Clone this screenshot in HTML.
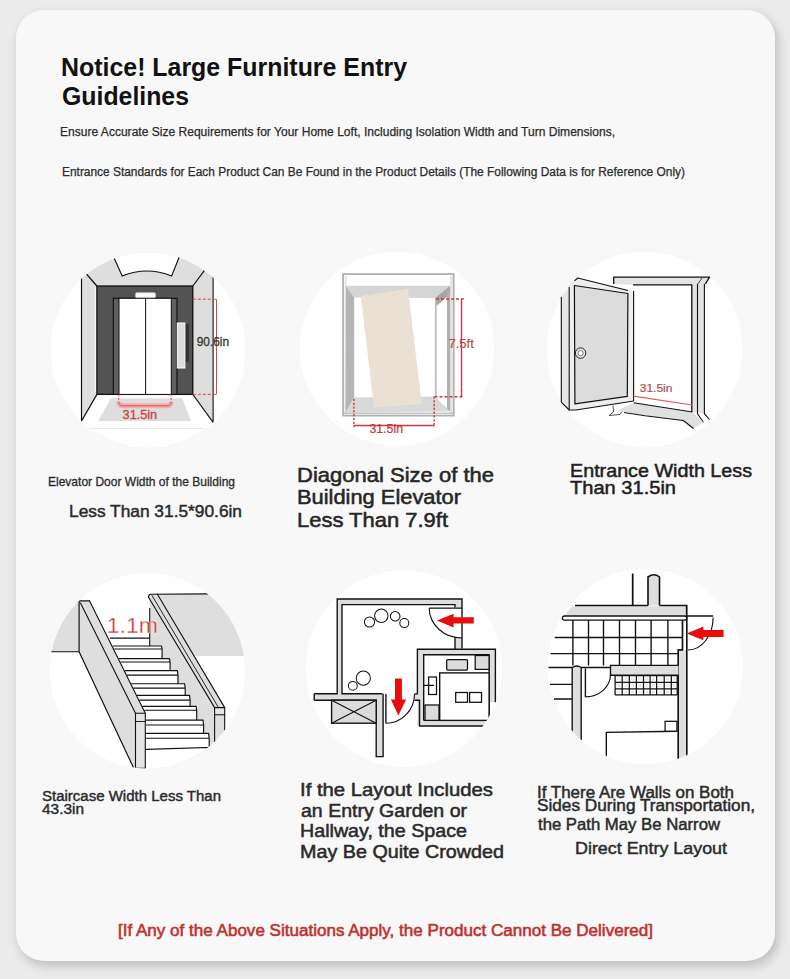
<!DOCTYPE html>
<html><head><meta charset="utf-8">
<style>
html,body{margin:0;padding:0;background:#ebebeb;width:790px;height:979px;overflow:hidden;}
#card{position:absolute;left:16px;top:10px;width:759px;height:951px;border-radius:28px;background:#f8f8f8;box-shadow:3px 5px 11px rgba(0,0,0,0.2);}
svg{position:absolute;left:0;top:0;}
text{font-family:"Liberation Sans",sans-serif;}
</style></head>
<body>
<div id="card"></div>
<svg width="790" height="979" viewBox="0 0 790 979">
<defs>
<clipPath id="c1"><circle cx="148" cy="350" r="97.5"/></clipPath>
<clipPath id="c2"><circle cx="397" cy="348.6" r="97.2"/></clipPath>
<clipPath id="c3"><circle cx="644.6" cy="349.5" r="98"/></clipPath>
<clipPath id="c4"><circle cx="147.3" cy="670.8" r="97.7"/></clipPath>
<clipPath id="c5"><circle cx="403.8" cy="668.3" r="98.1"/></clipPath>
<clipPath id="c6"><circle cx="645.5" cy="666.5" r="97.7"/></clipPath>
</defs>
<!-- circles -->
<g fill="#fff">
<circle cx="148" cy="350" r="97.5"/>
<circle cx="397" cy="348.6" r="97.2"/>
<circle cx="644.6" cy="349.5" r="98"/>
<circle cx="147.3" cy="670.8" r="97.7"/>
<circle cx="403.8" cy="668.3" r="98.1"/>
<circle cx="645.5" cy="666.5" r="97.7"/>
</g>
<g clip-path="url(#c1)">
<polygon points="40,230 260,230 213.1,276 213.1,422.3 192.8,394.4 96.9,394.4 81.5,421 81.5,276" fill="#dedede"/><rect x="94.5" y="288" width="2.4" height="104" fill="#f4f4f4"/>
<path d="M114,240 L114,257.7 L122.2,276 Q147,266 171.6,276 L179.2,257 L179.2,240 Z" fill="#fff"/>
<path d="M100,250 L114,257.7 L122.2,276 Q147,266 171.6,276 L179.2,257 L195,250" fill="none" stroke="#111" stroke-width="1.1"/>
<polygon points="213.1,276 240,276 240,440 213.1,440" fill="#fff"/>
<polygon points="96.9,394.4 192.8,394.4 212.7,422.3 81.7,421" fill="#fff"/>
<polygon points="110.8,398.2 182.3,398.2 191,421 98.2,421" fill="#dedede"/>
<line x1="90.6" y1="428.4" x2="204" y2="428.4" stroke="#e6e6e6" stroke-width="1"/>
<rect x="96.9" y="286" width="95.9" height="108.4" fill="#535353" stroke="#111" stroke-width="1.3"/>
<rect x="113.3" y="298.3" width="63.7" height="96.1" fill="#5f5f5f" stroke="#111" stroke-width="1.2"/>
<rect x="119" y="298.3" width="52.3" height="96.1" fill="#fff" stroke="#111" stroke-width="1"/>
<line x1="145.6" y1="298.3" x2="145.6" y2="394.4" stroke="#111" stroke-width="1"/>
<rect x="135.4" y="292.6" width="20.3" height="5.1" rx="1.5" fill="#fafafa" stroke="#aaa" stroke-width="0.7"/>
<rect x="185" y="324" width="4" height="38" fill="#333"/>
<rect x="177.3" y="323" width="7.6" height="45" fill="#dcdcdc" stroke="#fff" stroke-width="1"/>
<path d="M81.5,277 V421 L96.9,394.4" fill="none" stroke="#111" stroke-width="1.2"/>
<path d="M86,273.5 L96.9,286" fill="none" stroke="#111" stroke-width="1.2"/>
<path d="M192.8,286 L204.5,270.3" fill="none" stroke="#111" stroke-width="1.2"/>
<path d="M213.1,276.6 V422.3 L192.8,394.4" fill="none" stroke="#222" stroke-width="1.2"/>
<g stroke="#d64848" stroke-width="1" fill="none">
<path d="M192.8,299.2 H218" stroke-dasharray="3,2"/>
<path d="M192.8,394.4 H218" stroke-dasharray="3,2"/>
<path d="M216.5,299.2 V394.4"/>
<path d="M118.7,394.4 V403" stroke-dasharray="2,1.5"/>
<path d="M171.1,394.4 V403" stroke-dasharray="2,1.5"/>
<path d="M118.7,402 Q118.7,405.8 123,405.8 H167 Q171.1,405.8 171.1,402" stroke="#f5a0a0" stroke-width="5" opacity="0.75"/>
<path d="M118.7,402 Q118.7,405.8 123,405.8 H167 Q171.1,405.8 171.1,402" stroke="#e05050" stroke-width="1"/>
</g>
<text x="196.80" y="345.8" font-size="12" fill="#333" stroke="#333" stroke-width="0.3" textLength="32.20" lengthAdjust="spacingAndGlyphs">90.6in</text>
<text x="122.60" y="418.9" font-size="12" fill="#c44848" stroke="#c44848" stroke-width="0.3" textLength="34.60" lengthAdjust="spacingAndGlyphs">31.5in</text>
</g>
<g>
<rect x="343.1" y="274.1" width="110.6" height="141.5" fill="#fff" stroke="#b0b0b0" stroke-width="1.8"/>
<rect x="344.6" y="275.6" width="2" height="138" fill="#e2e2e2"/>
<rect x="450.2" y="275.6" width="2.5" height="138" fill="#e2e2e2"/>
<polygon points="346.1,285.8 450.1,285.8 434.9,298 354.2,297.4" fill="#d5d5d5"/>
<polygon points="346.1,285.8 354.2,297.4 354.2,397.4 345.6,412.6" fill="#b5b5b5"/>
<polygon points="450.1,285.8 450.1,294 436.5,306 434.9,298" fill="#a6a6a6"/>
<rect x="434.9" y="298" width="1.8" height="98.5" fill="#bdbdbd"/>
<rect x="447" y="290" width="3.1" height="121" fill="#b0b0b0"/>
<polygon points="354.2,397.4 434.9,396.5 450.1,411.5 345.6,412.6" fill="#d8d8d8"/>
<line x1="343.5" y1="413.2" x2="453.5" y2="413.2" stroke="#a8a8a8" stroke-width="1"/>
<polygon points="360.8,295.9 407.9,288.8 421.8,404 374,407.5" fill="#ebe0d4"/>
<g stroke="#cc3a3a" stroke-width="1.4" fill="none">
<path d="M353.9,398.9 V427.3" stroke-dasharray="2.2,1.6"/>
<path d="M434.2,396.4 V427.3" stroke-dasharray="2.2,1.6"/>
<path d="M353.9,425.5 H434.2"/>
<path d="M436,299 H463.8" stroke-dasharray="3,2"/>
<path d="M434.5,396.7 H463.8" stroke-dasharray="3,2"/>
<path d="M461.5,299 V396.7"/>
</g>
<text x="369.40" y="432.7" font-size="12.5" fill="#bc3c40" stroke="#bc3c40" stroke-width="0.2" textLength="33.60" lengthAdjust="spacingAndGlyphs">31.5in</text>
<text x="448.40" y="347.8" font-size="12" fill="#b04a50" stroke="#b04a50" stroke-width="0.15" textLength="25.40" lengthAdjust="spacingAndGlyphs">7.5ft</text>
</g>
<g stroke-linejoin="round">
<polygon points="613.7,277.2 709.5,277.2 705.5,283.8 704.4,283.8 704.4,413.7 691.8,412 691.8,284.9 633,284.9 613.7,284" fill="#e3e3e3"/>
<path d="M613.7,284 V277.2 H709.5 L705.5,283.8" fill="none" stroke="#111" stroke-width="1.3"/>
<path d="M633,284.9 H691.8 V412" fill="none" stroke="#111" stroke-width="1.3"/>
<path d="M697.5,283.8 V413.7 L703.5,422.5" fill="none" stroke="#111" stroke-width="1.1"/>
<path d="M704.4,283.8 V413.7 L709.5,419.5" fill="none" stroke="#111" stroke-width="1.1"/>
<path d="M698,283.8 L702,278" fill="none" stroke="#111" stroke-width="0.8"/>
<polygon points="633.6,402.8 692.4,412 703.5,422.5 693.5,428.5 683.3,420.5 645,415.5 618.2,410.5" fill="#e0e0e0"/>
<path d="M633.6,402.8 L692.4,412" fill="none" stroke="#111" stroke-width="1.1"/>
<path d="M624,412.5 L645,415.8 L683.3,420.5 L693.5,428.5" fill="none" stroke="#111" stroke-width="1.1"/>
<path d="M613,405.5 L613.5,412 L609,415.5 L620,414.5 L622,411.5" fill="none" stroke="#222" stroke-width="0.8"/>
<polygon points="561.3,296.8 569.2,287.1 569.2,410 561.3,402.1" fill="#e6e6e6"/>
<path d="M561.3,296.8 V402.1 L569.2,410" fill="none" stroke="#111" stroke-width="1.1"/>
<polygon points="569.2,283.5 574.4,280.8 577.8,278 633.6,290.5 633.6,401 576,410 569.2,410" fill="#eeeeee"/>
<path d="M569.2,287.1 V410 H576 L633.6,401" fill="none" stroke="#111" stroke-width="1.1"/>
<path d="M574.4,280.8 L577.8,278 L627.9,290.5" fill="none" stroke="#111" stroke-width="1.1"/>
<polygon points="574.4,285.5 627.9,293.5 627.3,396.4 574.9,403.8" fill="#dcdcdc" stroke="#111" stroke-width="1.2"/>
<line x1="633.6" y1="291" x2="633.6" y2="401" stroke="#111" stroke-width="1.1"/>
<circle cx="580.6" cy="353.1" r="5.2" fill="#e8e8e8" stroke="#222" stroke-width="1"/>
<circle cx="580.6" cy="353.1" r="2.6" fill="#fff" stroke="#555" stroke-width="0.8"/>
<path d="M633.5,396.1 L692,405" stroke="#e05a5a" stroke-width="1.2" fill="none"/>
<text x="639.80" y="391.7" font-size="11.6" fill="#b84a4a" stroke="#b84a4a" stroke-width="0.2" textLength="32.60" lengthAdjust="spacingAndGlyphs">31.5in</text>
</g>
<g clip-path="url(#c4)" stroke-linejoin="round" stroke-linecap="round">
<polygon points="30,560 79.1,560 79.1,651.7 30,651.7" fill="#dedede"/>
<polygon points="157.4,594 270,594 270,655.9 193.5,655.9" fill="#dedede"/>
<path d="M30,651.7 H79.1" stroke="#111" stroke-width="1.1" fill="none"/>
<polygon points="148.4,596 157.4,594 224.7,707.6 224.7,730 214.6,790 149.7,790 149.7,600" fill="#dedede"/>
<polygon points="110.3,638.1 149.5,638.1 149.5,646.0 161.5,646.0 162.1,649.0 162.1,658.6 169.5,658.6 170.1,662.0 170.1,670.6 177.4,670.6 178.0,675.1 178.0,683.7 184.6,683.7 185.2,688.1 185.2,695.4 189.5,695.4 190.1,700.1 190.1,706.4 196.1,706.4 196.7,710.2 196.7,720.1 203.0,720.1 203.6,725.0 203.6,733.4 208.6,733.4 209.2,738.2 209.2,749.4 240.0,746.5 240.0,790.0 146.5,790.0 110.3,638.1" fill="#fff"/>
<path d="M110.3,638.1 H149.5 M113.1,646 H161.5 M114.6,649 H162.1 M161.5,646 L162.1,649 V658.6 M119.3,658.6 H169.5 M120.9,662 H170.1 M169.5,658.6 L170.1,662 V670.6 M125.2,670.6 H177.4 M127.4,675.1 H178.0 M177.4,670.6 L178.0,675.1 V683.7 M131.6,683.7 H184.6 M133.7,688.1 H185.2 M184.6,683.7 L185.2,688.1 V695.4 M137.3,695.4 H189.5 M139.6,700.1 H190.1 M189.5,695.4 L190.1,700.1 V706.4 M142.7,706.4 H196.1 M144.6,710.2 H196.7 M196.1,706.4 L196.7,710.2 V720.1 M146.5,720.1 H203 M146.5,725 H203.6 M203,720.1 L203.6,725 V733.4 M146.5,733.4 H208.6 M146.5,738.2 H209.2 M208.6,733.4 L209.2,738.2 V749.4 M146.5,749.4 L240,746.5" stroke="#111" stroke-width="1.15" fill="none"/>
<polygon points="79.1,600.9 89.6,600.9 145.3,713.2 145.3,768.2 133.4,767.5 79.1,651.7" fill="#dedede"/>
<path d="M79.1,600.9 V651.7 L133.4,767.5" stroke="#111" stroke-width="1.2" fill="none"/>
<path d="M79.1,600.9 H89.6" stroke="#111" stroke-width="1.1" fill="none"/>
<path d="M80.5,603 L135.5,713.2" stroke="#111" stroke-width="1.1" fill="none"/>
<path d="M89.6,600.9 L145.3,713.2" stroke="#111" stroke-width="1.1" fill="none"/>
<rect x="135.5" y="713.2" width="9.8" height="55" fill="#e4e4e4" stroke="#111" stroke-width="1.1"/>
<line x1="135.5" y1="721.5" x2="145.3" y2="721.5" stroke="#111" stroke-width="0.9"/>
<path d="M149.7,608.6 V645.5" stroke="#111" stroke-width="1.1" fill="none"/>
<path d="M148.4,597 Q148.4,594.5 151,594.2 L207.5,593.9" stroke="#111" stroke-width="1.1" fill="none"/>
<path d="M148.4,597 L214.6,707.6" stroke="#111" stroke-width="1.1" fill="none"/>
<path d="M152,595.5 L218.5,707.6" stroke="#111" stroke-width="0.9" fill="none"/>
<path d="M157.4,594.2 L224.7,707.6" stroke="#111" stroke-width="1.1" fill="none"/>
<rect x="214.6" y="707.6" width="10.1" height="7.1" fill="#e4e4e4" stroke="#111" stroke-width="1.1"/>
<path d="M214.6,714.7 V790 M224.7,714.7 V729.9" stroke="#111" stroke-width="1.1" fill="none"/>
<text x="106.8" y="633.4" font-size="22" fill="#c43c3c" stroke="#fff" stroke-width="0.3" textLength="51.2" lengthAdjust="spacingAndGlyphs">1.1m</text>
</g>
<g clip-path="url(#c5)" stroke="#111" stroke-linejoin="miter">
<g fill="#dedede" stroke="none">
<rect x="337.2" y="599" width="124.8" height="5.6"/>
<rect x="337.2" y="599" width="4.8" height="101"/>
<rect x="455" y="599" width="7" height="8.4"/>
<rect x="455" y="637.4" width="7" height="11.1"/>
<rect x="314.2" y="693.8" width="68.2" height="6.4"/>
<rect x="376.2" y="693.8" width="6.9" height="62.8"/>
<rect x="414.5" y="693.8" width="5" height="6.4"/>
<rect x="417.4" y="649.2" width="78" height="5.6"/>
<rect x="417.4" y="649.2" width="6.3" height="76.8"/>
<rect x="489.1" y="649.2" width="6.3" height="53.1"/>
<rect x="417.4" y="720.4" width="67.6" height="5.6"/>
</g>
<g fill="none" stroke-width="1.38">
<path d="M314.2,693.8 H337.2 V599 H462 V648.5"/>
<path d="M382.4,693.8 H342 V604.6 H455 V607.4"/>
<path d="M455,637.4 V649.2"/>
<path d="M314.2,700.2 H376.2 V756.6 H383.1 V693.8 M314.2,693.8 V700.2" />
<path d="M429.2,608.1 H462"/>
<path d="M429.2,608.1 A32.8,29.9 0 0 0 462,638" stroke-width="1.15"/>
<path d="M385.9,693.9 V723.2"/>
<path d="M385.9,723.2 A28.6,29.3 0 0 0 414.5,693.9" stroke-width="1.15"/>
<path d="M414.5,693.9 H417.4 V649.2 H495.4 V702.3"/>
<path d="M414.5,700.2 H419.5 V726 H483.6"/>
<path d="M423.7,720.4 V654.8 H489.1 V714.8"/>
<path d="M423.7,720.4 H485"/>
</g>
<rect x="331.6" y="700.2" width="44.6" height="23" fill="#dcdcdc" stroke-width="1.38"/>
<path d="M331.6,700.2 L376.2,723.2 M376.2,700.2 L331.6,723.2" stroke-width="1.15"/>
<rect x="439.7" y="672.9" width="49.4" height="47.5" fill="#fff" stroke-width="1.38"/>
<rect x="446.7" y="659.6" width="20.8" height="10.5" rx="1" fill="#dcdcdc" stroke-width="1.26"/>
<rect x="475.2" y="655.5" width="13.9" height="13.9" fill="#dcdcdc" stroke-width="1.26"/>
<rect x="425" y="705" width="14" height="15.4" fill="#dcdcdc" stroke-width="1.26"/>
<rect x="428.6" y="677" width="7.9" height="17.5" fill="#fff" stroke-width="1.26"/>
<path d="M423.7,685.4 H434" stroke-width="1.15"/>
<rect x="455.7" y="692.5" width="11.8" height="9.8" fill="#fff" stroke-width="1.26"/>
<rect x="469.6" y="692.5" width="11.9" height="9.8" fill="#fff" stroke-width="1.26"/>
<g fill="#fff" stroke-width="1.03">
<circle cx="381.3" cy="615.8" r="6.7"/>
<circle cx="369.5" cy="622" r="5.1"/>
<circle cx="395.2" cy="616.2" r="4.8"/>
<circle cx="404.3" cy="623.1" r="4.5"/>
<circle cx="363.3" cy="678.2" r="7.1"/>
<circle cx="352.8" cy="685.8" r="4.4"/>
</g>
<polygon points="436.9,620.4 453.6,613.7 453.6,617.2 473.8,617.2 473.8,623.4 453.6,623.4 453.6,627.6" fill="#e80e0e" stroke="none"/>
<polygon points="395,678.4 401.9,678.4 401.9,699.5 406.1,699.5 398.4,715.5 390.8,699.5 395,699.5" fill="#e80e0e" stroke="none"/>
</g>
<g clip-path="url(#c6)" stroke="#111" stroke-linejoin="miter">
<polygon points="564.5,616 572,606.2 686.7,606.2 686.7,616" fill="#dedede" stroke="none"/>
<path d="M575,605.5 H648 M632.7,573.5 V605.5 M659.5,605.5 H686.7 V616 H713.1" fill="none" stroke-width="1.72"/>
<path d="M648,605.5 V577 Q654,572.5 659.5,577 V605.5" fill="#dedede" stroke-width="1.61"/>
<rect x="562.4" y="616" width="124.3" height="4.1" rx="2" fill="#fff" stroke-width="1.26"/>
<path d="M572.9,620.1 V665.5 M588.5,620.1 V665.5 M603.5,620.1 V665.5 M619.5,620.1 V665.5 M635.5,620.1 V665.5 M651.1,620.1 V665.5 M667.9,620.1 V665.5 M554.7,637.5 H682.5 M550.6,653.6 H682.5 M548.5,667.5 H572.2 M581.2,667.5 H610.5" fill="none" stroke-width="1.38"/>
<path d="M682.5,620.1 V650 H678.3 V760 M686.7,616 V760" fill="none" stroke-width="1.38"/>
<rect x="678.3" y="650" width="8.4" height="110" fill="#dedede" stroke="none"/>
<path d="M682.5,620.1 V650 H678.3 V760 M686.7,616 V760" fill="none" stroke-width="1.38"/>
<path d="M688,650 A25,32.6 0 0 0 713.1,617.4" fill="none" stroke-width="1.15"/>
<rect x="610.5" y="665.4" width="68" height="9.8" fill="#dedede" stroke="none"/><path d="M678.3,665.4 H610.5 V675.2 H678.3" fill="none" stroke-width="1.38"/>


<rect x="616.9" y="677.5" width="3.5" height="3.0" fill="#ececec" stroke="none"/><rect x="616.9" y="684.1" width="3.5" height="3.0" fill="#ececec" stroke="none"/><rect x="616.9" y="690.7" width="3.5" height="2.4" fill="#ececec" stroke="none"/><rect x="624.0" y="677.5" width="3.5" height="3.0" fill="#ececec" stroke="none"/><rect x="624.0" y="684.1" width="3.5" height="3.0" fill="#ececec" stroke="none"/><rect x="624.0" y="690.7" width="3.5" height="2.4" fill="#ececec" stroke="none"/><rect x="631.1" y="677.5" width="3.5" height="3.0" fill="#ececec" stroke="none"/><rect x="631.1" y="684.1" width="3.5" height="3.0" fill="#ececec" stroke="none"/><rect x="631.1" y="690.7" width="3.5" height="2.4" fill="#ececec" stroke="none"/><rect x="638.2" y="677.5" width="3.5" height="3.0" fill="#ececec" stroke="none"/><rect x="638.2" y="684.1" width="3.5" height="3.0" fill="#ececec" stroke="none"/><rect x="638.2" y="690.7" width="3.5" height="2.4" fill="#ececec" stroke="none"/><rect x="645.3" y="677.5" width="3.0" height="3.0" fill="#ececec" stroke="none"/><rect x="645.3" y="684.1" width="3.0" height="3.0" fill="#ececec" stroke="none"/><rect x="645.3" y="690.7" width="3.0" height="2.4" fill="#ececec" stroke="none"/><rect x="651.9" y="677.5" width="2.9" height="3.0" fill="#ececec" stroke="none"/><rect x="651.9" y="684.1" width="2.9" height="3.0" fill="#ececec" stroke="none"/><rect x="651.9" y="690.7" width="2.9" height="2.4" fill="#ececec" stroke="none"/><rect x="658.4" y="677.5" width="4.0" height="3.0" fill="#ececec" stroke="none"/><rect x="658.4" y="684.1" width="4.0" height="3.0" fill="#ececec" stroke="none"/><rect x="658.4" y="690.7" width="4.0" height="2.4" fill="#ececec" stroke="none"/><rect x="666.0" y="677.5" width="3.5" height="3.0" fill="#ececec" stroke="none"/><rect x="666.0" y="684.1" width="3.5" height="3.0" fill="#ececec" stroke="none"/><rect x="666.0" y="690.7" width="3.5" height="2.4" fill="#ececec" stroke="none"/><rect x="673.1" y="677.5" width="2.3" height="3.0" fill="#ececec" stroke="none"/><rect x="673.1" y="684.1" width="2.3" height="3.0" fill="#ececec" stroke="none"/><rect x="673.1" y="690.7" width="2.3" height="2.4" fill="#ececec" stroke="none"/><path d="M615.1,675.7 V694.9 M622.2,675.7 V694.9 M629.3,675.7 V694.9 M636.4,675.7 V694.9 M643.5,675.7 V694.9 M650.1,675.7 V694.9 M656.6,675.7 V694.9 M664.2,675.7 V694.9 M671.3,675.7 V694.9 M677.2,675.7 V694.9 M615.1,675.7 H677.2 M615.1,682.3 H677.2 M615.1,688.9 H677.2 M615.1,694.9 H677.2" fill="none" stroke-width="1.26"/>
<path d="M572.2,731.7 V667.5 Q576.7,664.5 581.2,667.5 V740.1" fill="#dedede" stroke-width="1.38"/>
<path d="M585.4,668.4 V696.9" fill="none" stroke-width="1.38"/>
<path d="M585.4,696.9 A25.1,22.3 0 0 0 610.5,674.6" fill="none" stroke-width="1.15"/>
<path d="M549.9,684.4 H572.2 M554,699 H572.2" fill="none" stroke-width="1.38"/>
<path d="M606.3,756.1 V732.4 L677.3,731.2" fill="none" stroke-width="1.38"/>
<rect x="665.1" y="721.3" width="11.8" height="9.9" fill="#fff" stroke-width="1.26"/>
<polygon points="686.7,633.4 703.4,626.4 703.4,629.9 723.6,629.9 723.6,636.9 703.4,636.9 703.4,640.3" fill="#e80e0e" stroke="none"/>
</g>
<!-- labels -->
<text id="title1" x="61.00" y="75.9" font-size="25" font-weight="bold" fill="#111" textLength="346.00" lengthAdjust="spacingAndGlyphs">Notice! Large Furniture Entry</text>
<text id="title2" x="62.00" y="104.5" font-size="25" font-weight="bold" fill="#111" textLength="127.00" lengthAdjust="spacingAndGlyphs">Guidelines</text>
<text id="sub1" x="60.00" y="136.4" font-size="12.3" font-weight="normal" fill="#2a2a2a" stroke="#2a2a2a" stroke-width="0.25" textLength="555.00" lengthAdjust="spacingAndGlyphs">Ensure Accurate Size Requirements for Your Home Loft, Including Isolation Width and Turn Dimensions,</text>
<text id="sub2" x="62.00" y="176.3" font-size="12.3" font-weight="normal" fill="#2a2a2a" stroke="#2a2a2a" stroke-width="0.25" textLength="623.00" lengthAdjust="spacingAndGlyphs">Entrance Standards for Each Product Can Be Found in the Product Details (The Following Data is for Reference Only)</text>
<text id="elev" x="48.00" y="486.3" font-size="12.9" font-weight="normal" fill="#2a2a2a" stroke="#2a2a2a" stroke-width="0.3" textLength="187.00" lengthAdjust="spacingAndGlyphs">Elevator Door Width of the Building</text>
<text id="less" x="69.00" y="516.7" font-size="16.7" font-weight="normal" fill="#2a2a2a" stroke="#2a2a2a" stroke-width="0.45" textLength="173.00" lengthAdjust="spacingAndGlyphs">Less Than 31.5*90.6in</text>
<text id="diag1" x="297.00" y="481.6" font-size="21" font-weight="normal" fill="#262626" stroke="#262626" stroke-width="0.55" textLength="197.00" lengthAdjust="spacingAndGlyphs">Diagonal Size of the</text>
<text id="diag2" x="297.00" y="504.4" font-size="21" font-weight="normal" fill="#262626" stroke="#262626" stroke-width="0.55" textLength="164.00" lengthAdjust="spacingAndGlyphs">Building Elevator</text>
<text id="diag3" x="297.00" y="527.2" font-size="21" font-weight="normal" fill="#262626" stroke="#262626" stroke-width="0.55" textLength="151.00" lengthAdjust="spacingAndGlyphs">Less Than 7.9ft</text>
<text id="ent1" x="570.00" y="476.6" font-size="18.7" font-weight="normal" fill="#1e1e1e" stroke="#1e1e1e" stroke-width="0.5" textLength="182.00" lengthAdjust="spacingAndGlyphs">Entrance Width Less</text>
<text id="ent2" x="570.00" y="493.7" font-size="18.7" font-weight="normal" fill="#1e1e1e" stroke="#1e1e1e" stroke-width="0.5" textLength="106.00" lengthAdjust="spacingAndGlyphs">Than 31.5in</text>
<text id="stair1" x="42.00" y="801.3" font-size="14" font-weight="normal" fill="#2a2a2a" stroke="#2a2a2a" stroke-width="0.4" textLength="179.00" lengthAdjust="spacingAndGlyphs">Staircase Width Less Than</text>
<text id="stair2" x="42.00" y="813.9" font-size="14" font-weight="normal" fill="#2a2a2a" stroke="#2a2a2a" stroke-width="0.4" textLength="42.00" lengthAdjust="spacingAndGlyphs">43.3in</text>
<text id="lay1" x="300.00" y="795.8" font-size="17.8" font-weight="normal" fill="#2a2a2a" stroke="#2a2a2a" stroke-width="0.5" textLength="193.00" lengthAdjust="spacingAndGlyphs">If the Layout Includes</text>
<text id="lay2" x="301.00" y="816.5" font-size="17.8" font-weight="normal" fill="#2a2a2a" stroke="#2a2a2a" stroke-width="0.5" textLength="166.00" lengthAdjust="spacingAndGlyphs">an Entry Garden or</text>
<text id="lay3" x="300.00" y="837" font-size="17.8" font-weight="normal" fill="#2a2a2a" stroke="#2a2a2a" stroke-width="0.5" textLength="167.00" lengthAdjust="spacingAndGlyphs">Hallway, the Space</text>
<text id="lay4" x="300.00" y="857.5" font-size="17.8" font-weight="normal" fill="#2a2a2a" stroke="#2a2a2a" stroke-width="0.5" textLength="204.00" lengthAdjust="spacingAndGlyphs">May Be Quite Crowded</text>
<text id="wall1" x="537.00" y="797.7" font-size="15.8" font-weight="normal" fill="#2a2a2a" stroke="#2a2a2a" stroke-width="0.45" textLength="197.00" lengthAdjust="spacingAndGlyphs">If There Are Walls on Both</text>
<text id="wall2" x="537.00" y="811.4" font-size="15.8" font-weight="normal" fill="#2a2a2a" stroke="#2a2a2a" stroke-width="0.45" textLength="218.00" lengthAdjust="spacingAndGlyphs">Sides During Transportation,</text>
<text id="wall3" x="538.00" y="829.6" font-size="15.8" font-weight="normal" fill="#2a2a2a" stroke="#2a2a2a" stroke-width="0.45" textLength="182.00" lengthAdjust="spacingAndGlyphs">the Path May Be Narrow</text>
<text id="direct" x="575.00" y="853.5" font-size="17" font-weight="normal" fill="#2a2a2a" stroke="#2a2a2a" stroke-width="0.45" textLength="152.00" lengthAdjust="spacingAndGlyphs">Direct Entry Layout</text>
<text id="red" x="118.00" y="936.4" font-size="16" font-weight="normal" fill="#c0302f" stroke="#c0302f" stroke-width="0.55" textLength="535.00" lengthAdjust="spacingAndGlyphs">[If Any of the Above Situations Apply, the Product Cannot Be Delivered]</text>
</svg>
</body></html>
